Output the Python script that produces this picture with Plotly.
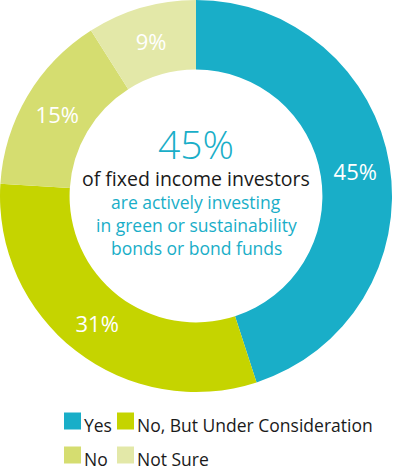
"""Donut chart: fixed income investors and green / sustainability bonds."""

import plotly.graph_objects as go

BLUE = "#19aec8"
LIME = "#c5d400"
LIGHT = "#d5dd70"
PALE = "#e3e8a8"
INK = "#1a1a1a"
FONT = "Open Sans"

W, H = 400, 475

labels = ["Yes", "No, But Under Consideration", "No", "Not Sure"]
values = [45, 31, 15, 9]
colors = [BLUE, LIME, LIGHT, PALE]

headline = "45%"
subtitle = "of fixed income investors"
detail_lines = ["are actively investing", "in green or sustainability", "bonds or bond funds"]


def px(x):
    return x / W


def py(y):
    return 1 - y / H


fig = go.Figure(
    go.Pie(
        labels=labels,
        values=values,
        hole=0.645,
        sort=False,
        direction="clockwise",
        rotation=0,
        marker=dict(colors=colors, line=dict(width=0)),
        texttemplate="%{value}%",
        textposition="inside",
        insidetextorientation="horizontal",
        textfont=dict(family=FONT, size=22, color="white"),
        domain=dict(x=[0, px(392)], y=[py(392), 1.0]),
        showlegend=False,
        hoverinfo="label+percent",
    )
)

# centre text
fig.add_annotation(
    x=px(196), y=py(143), xref="paper", yref="paper", yanchor="middle",
    text=headline, showarrow=False,
    font=dict(family=FONT, size=39, color=BLUE, weight=300),
)
fig.add_annotation(
    x=px(196), y=py(178), xref="paper", yref="paper", yanchor="middle",
    text=subtitle, showarrow=False,
    font=dict(family=FONT, size=19.5, color=INK),
)
for i, line in enumerate(detail_lines):
    fig.add_annotation(
        x=px(196), y=py(202 + 23 * i), xref="paper", yref="paper", yanchor="middle",
        text=line, showarrow=False,
        font=dict(family=FONT, size=17.5, color=BLUE),
    )

# legend drawn as a 2x2 grid of swatches and labels
col_x = [64, 117]
row_y = [421, 455]
for i, (label, color) in enumerate(zip(labels, colors)):
    x0 = col_x[i % 2]
    yc = row_y[i // 2]
    fig.add_shape(
        type="rect", xref="paper", yref="paper",
        x0=px(x0), x1=px(x0 + 17),
        y0=py(yc + 8.5), y1=py(yc - 8.5),
        fillcolor=color, line=dict(width=0),
    )
    fig.add_annotation(
        x=px(x0 + 18), y=py(yc + 4), xref="paper", yref="paper",
        xanchor="left", yanchor="middle",
        text=label, showarrow=False,
        font=dict(family=FONT, size=17.5, color=INK),
    )

fig.update_layout(
    width=W,
    height=H,
    margin=dict(l=0, r=0, t=0, b=0),
    paper_bgcolor="white",
    plot_bgcolor="white",
    showlegend=False,
)

# drop the browser's default body margin so the figure sits at the page corner
fig.write_html(
    "out.html",
    config={"displayModeBar": False},
    post_script="document.body.style.margin = '0';",
)
